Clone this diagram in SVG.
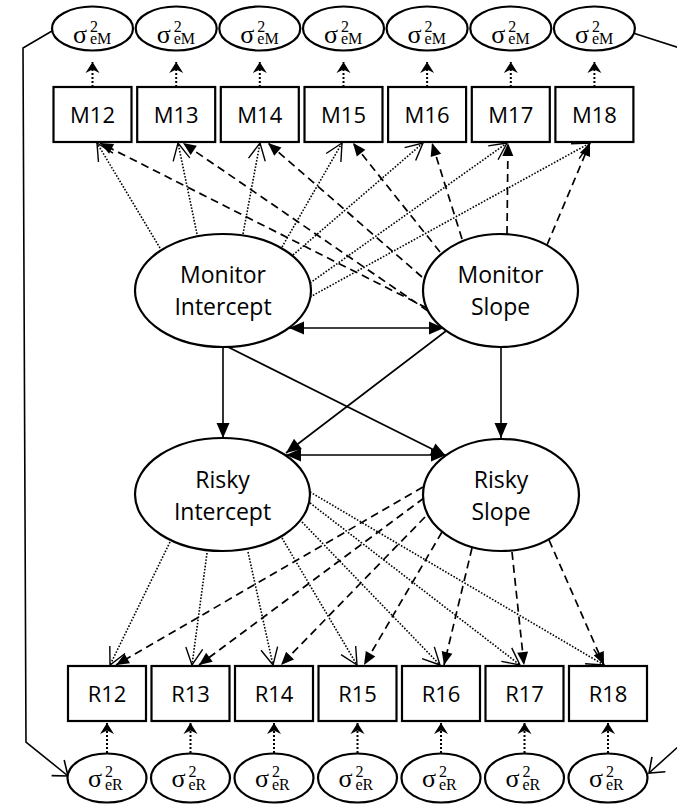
<svg xmlns="http://www.w3.org/2000/svg" width="677" height="804" viewBox="0 0 677 804">
<defs>
<style>
.shape{fill:#fff;stroke:#000;stroke-width:2.2}
.lbl{font-family:"Open Sans","Liberation Sans",sans-serif;font-size:23px;text-anchor:middle;fill:#000}
.blbl{font-family:"Open Sans","Liberation Sans",sans-serif;font-size:22px;text-anchor:middle;fill:#000}
.sig{font-family:"Liberation Serif","DejaVu Serif",serif;font-size:26px;fill:#000}
.sc{font-family:"Liberation Serif","DejaVu Serif",serif;font-size:16px}
.ln{fill:none;stroke:#000;stroke-width:1.6}
.dash{stroke-dasharray:8 5;stroke-width:1.7}
.dot{stroke-dasharray:1.6 1.6;stroke-width:1.6}
.edot{stroke-dasharray:2 2;stroke-width:2}
</style>
<marker id="af" markerUnits="userSpaceOnUse" markerWidth="16" markerHeight="14" viewBox="0 0 16 14" refX="15" refY="7" orient="auto-start-reverse" overflow="visible"><path d="M0,0.5 L15,7 L0,13.5 z" fill="#000" stroke="none"/></marker>
<marker id="afs" markerUnits="userSpaceOnUse" markerWidth="14" markerHeight="12" viewBox="0 0 14 12" refX="13" refY="6" orient="auto" overflow="visible"><path d="M0,0.5 L13,6 L0,11.5 z" fill="#000" stroke="none"/></marker>
<marker id="ao" markerUnits="userSpaceOnUse" markerWidth="20" markerHeight="20" viewBox="0 0 20 20" refX="18" refY="9" orient="auto" overflow="visible"><path d="M1,0.5 L18,9 L1,17.5" fill="none" stroke="#000" stroke-width="1.4" stroke-dasharray="none"/></marker>
<marker id="ao2" markerUnits="userSpaceOnUse" markerWidth="16" markerHeight="22" viewBox="0 0 16 22" refX="14" refY="11" orient="auto" overflow="visible"><path d="M1,1 L14,11 L1,21" fill="none" stroke="#000" stroke-width="1.6" stroke-dasharray="none"/></marker>
<marker id="as" markerUnits="userSpaceOnUse" markerWidth="12" markerHeight="14" viewBox="0 0 12 14" refX="11" refY="7" orient="auto" overflow="visible"><path d="M11,7 L0,0 L3.5,7 L0,14 z" fill="#000" stroke="none"/></marker>
</defs>
<rect x="0" y="0" width="677" height="804" fill="#fff"/>

<g id="connectors">
  <path class="ln" d="M52,31 L23,48 L26,742 L68,776" marker-end="url(#ao2)"/>
  <path class="ln" d="M633,33 L700,54.5 L700,727 L649,773" marker-end="url(#ao2)"/>

  <g class="ln edot" marker-end="url(#as)">
    <line x1="92.5" y1="87" x2="92.5" y2="62"/>
    <line x1="176.2" y1="87" x2="176.2" y2="62"/>
    <line x1="259.8" y1="87" x2="259.8" y2="62"/>
    <line x1="343.5" y1="87" x2="343.5" y2="62"/>
    <line x1="427.1" y1="87" x2="427.1" y2="62"/>
    <line x1="510.8" y1="87" x2="510.8" y2="62"/>
    <line x1="594.4" y1="87" x2="594.4" y2="62"/>
  </g>
  <g class="ln edot" marker-end="url(#as)">
    <line x1="107" y1="753" x2="107" y2="723"/>
    <line x1="190.5" y1="753" x2="190.5" y2="723"/>
    <line x1="274" y1="753" x2="274" y2="723"/>
    <line x1="357.5" y1="753" x2="357.5" y2="723"/>
    <line x1="441" y1="753" x2="441" y2="723"/>
    <line x1="524.5" y1="753" x2="524.5" y2="723"/>
    <line x1="608" y1="753" x2="608" y2="723"/>
  </g>

  <g class="ln dot" marker-end="url(#ao)">
    <line x1="160" y1="248" x2="97" y2="143"/>
    <line x1="197" y1="234" x2="178" y2="143"/>
    <line x1="243" y1="234" x2="260" y2="143"/>
    <line x1="282" y1="247" x2="342" y2="143"/>
    <line x1="293" y1="255" x2="423" y2="143"/>
    <line x1="310" y1="283" x2="507" y2="143"/>
    <line x1="310" y1="297" x2="590" y2="143"/>
  </g>
  <g class="ln dash" marker-end="url(#afs)">
    <line x1="427" y1="308" x2="100" y2="143"/>
    <line x1="428" y1="311" x2="183" y2="143"/>
    <line x1="422" y1="277" x2="268" y2="143"/>
    <line x1="440" y1="252" x2="353" y2="143"/>
    <line x1="462" y1="239" x2="432" y2="143"/>
    <line x1="507" y1="234" x2="508" y2="143"/>
    <line x1="547" y1="245" x2="590" y2="143"/>
  </g>

  <g class="ln" marker-end="url(#af)">
    <line x1="223" y1="347" x2="223" y2="438"/>
    <line x1="501" y1="347" x2="501" y2="438"/>
    <line x1="226" y1="346" x2="446" y2="456"/>
    <line x1="446" y1="331" x2="286" y2="453"/>
  </g>
  <line class="ln" x1="289" y1="328" x2="444" y2="328" marker-start="url(#af)" marker-end="url(#af)"/>
  <line class="ln" x1="286" y1="455" x2="446" y2="455" marker-start="url(#af)" marker-end="url(#af)"/>

  <g class="ln dot" marker-end="url(#ao)">
    <line x1="170" y1="542" x2="110" y2="665"/>
    <line x1="207" y1="553" x2="192" y2="665"/>
    <line x1="248" y1="552" x2="273" y2="665"/>
    <line x1="282" y1="538" x2="357" y2="665"/>
    <line x1="302" y1="522" x2="440" y2="665"/>
    <line x1="310" y1="503" x2="520" y2="665"/>
    <line x1="310" y1="492" x2="604" y2="665"/>
  </g>
  <g class="ln dash" marker-end="url(#afs)">
    <line x1="423" y1="487" x2="116" y2="665"/>
    <line x1="424" y1="498" x2="199" y2="665"/>
    <line x1="425" y1="517" x2="281" y2="665"/>
    <line x1="442" y1="532" x2="364" y2="665"/>
    <line x1="472" y1="548" x2="444" y2="665"/>
    <line x1="512" y1="552" x2="524" y2="665"/>
    <line x1="549" y1="540" x2="604" y2="665"/>
  </g>
</g>

<g id="eM12"><ellipse class="shape" cx="92.5" cy="28.5" rx="40.5" ry="22"/><text class="sig" x="73" y="43">σ<tspan class="sc" x="90" y="32">2</tspan><tspan class="sc" x="90" y="44">eM</tspan></text></g>
<g id="eM13"><ellipse class="shape" cx="176.2" cy="28.5" rx="40.5" ry="22"/><text class="sig" x="156.7" y="43">σ<tspan class="sc" x="173.7" y="32">2</tspan><tspan class="sc" x="173.7" y="44">eM</tspan></text></g>
<g id="eM14"><ellipse class="shape" cx="259.8" cy="28.5" rx="40.5" ry="22"/><text class="sig" x="240.3" y="43">σ<tspan class="sc" x="257.3" y="32">2</tspan><tspan class="sc" x="257.3" y="44">eM</tspan></text></g>
<g id="eM15"><ellipse class="shape" cx="343.5" cy="28.5" rx="40.5" ry="22"/><text class="sig" x="324" y="43">σ<tspan class="sc" x="341" y="32">2</tspan><tspan class="sc" x="341" y="44">eM</tspan></text></g>
<g id="eM16"><ellipse class="shape" cx="427.1" cy="28.5" rx="40.5" ry="22"/><text class="sig" x="407.6" y="43">σ<tspan class="sc" x="424.6" y="32">2</tspan><tspan class="sc" x="424.6" y="44">eM</tspan></text></g>
<g id="eM17"><ellipse class="shape" cx="510.8" cy="28.5" rx="40.5" ry="22"/><text class="sig" x="491.3" y="43">σ<tspan class="sc" x="508.3" y="32">2</tspan><tspan class="sc" x="508.3" y="44">eM</tspan></text></g>
<g id="eM18"><ellipse class="shape" cx="594.4" cy="28.5" rx="40.5" ry="22"/><text class="sig" x="574.9" y="43">σ<tspan class="sc" x="591.9" y="32">2</tspan><tspan class="sc" x="591.9" y="44">eM</tspan></text></g>

<g id="M12"><rect class="shape" x="53.5" y="87" width="78" height="55"/><text class="blbl" x="92.5" y="123">M12</text></g>
<g id="M13"><rect class="shape" x="137.2" y="87" width="78" height="55"/><text class="blbl" x="176.2" y="123">M13</text></g>
<g id="M14"><rect class="shape" x="220.8" y="87" width="78" height="55"/><text class="blbl" x="259.8" y="123">M14</text></g>
<g id="M15"><rect class="shape" x="304.5" y="87" width="78" height="55"/><text class="blbl" x="343.5" y="123">M15</text></g>
<g id="M16"><rect class="shape" x="388.1" y="87" width="78" height="55"/><text class="blbl" x="427.1" y="123">M16</text></g>
<g id="M17"><rect class="shape" x="471.8" y="87" width="78" height="55"/><text class="blbl" x="510.8" y="123">M17</text></g>
<g id="M18"><rect class="shape" x="555.4" y="87" width="78" height="55"/><text class="blbl" x="594.4" y="123">M18</text></g>

<g id="MonitorIntercept"><ellipse class="shape" cx="223" cy="290.5" rx="88" ry="56.5"/><text class="lbl" x="223" y="283">Monitor</text><text class="lbl" x="223" y="315">Intercept</text></g>
<g id="MonitorSlope"><ellipse class="shape" cx="500.5" cy="290.5" rx="77.5" ry="56.5"/><text class="lbl" x="500.5" y="283">Monitor</text><text class="lbl" x="500.5" y="315">Slope</text></g>
<g id="RiskyIntercept"><ellipse class="shape" cx="222.5" cy="494.5" rx="87.5" ry="56.5"/><text class="lbl" x="222.5" y="488">Risky</text><text class="lbl" x="222.5" y="520">Intercept</text></g>
<g id="RiskySlope"><ellipse class="shape" cx="501" cy="495" rx="78" ry="56"/><text class="lbl" x="501" y="488">Risky</text><text class="lbl" x="501" y="520">Slope</text></g>

<g id="R12"><rect class="shape" x="68" y="666" width="78" height="55"/><text class="blbl" x="107" y="702">R12</text></g>
<g id="R13"><rect class="shape" x="151.5" y="666" width="78" height="55"/><text class="blbl" x="190.5" y="702">R13</text></g>
<g id="R14"><rect class="shape" x="235" y="666" width="78" height="55"/><text class="blbl" x="274" y="702">R14</text></g>
<g id="R15"><rect class="shape" x="318.5" y="666" width="78" height="55"/><text class="blbl" x="357.5" y="702">R15</text></g>
<g id="R16"><rect class="shape" x="402" y="666" width="78" height="55"/><text class="blbl" x="441" y="702">R16</text></g>
<g id="R17"><rect class="shape" x="485.5" y="666" width="78" height="55"/><text class="blbl" x="524.5" y="702">R17</text></g>
<g id="R18"><rect class="shape" x="569" y="666" width="78" height="55"/><text class="blbl" x="608" y="702">R18</text></g>

<g id="eR12"><ellipse class="shape" cx="107" cy="778" rx="39.5" ry="24.5"/><text class="sig" x="88" y="787">σ<tspan class="sc" x="105" y="777">2</tspan><tspan class="sc" x="105" y="790">eR</tspan></text></g>
<g id="eR13"><ellipse class="shape" cx="190.5" cy="778" rx="39.5" ry="24.5"/><text class="sig" x="171.5" y="787">σ<tspan class="sc" x="188.5" y="777">2</tspan><tspan class="sc" x="188.5" y="790">eR</tspan></text></g>
<g id="eR14"><ellipse class="shape" cx="274" cy="778" rx="39.5" ry="24.5"/><text class="sig" x="255" y="787">σ<tspan class="sc" x="272" y="777">2</tspan><tspan class="sc" x="272" y="790">eR</tspan></text></g>
<g id="eR15"><ellipse class="shape" cx="357.5" cy="778" rx="39.5" ry="24.5"/><text class="sig" x="338.5" y="787">σ<tspan class="sc" x="355.5" y="777">2</tspan><tspan class="sc" x="355.5" y="790">eR</tspan></text></g>
<g id="eR16"><ellipse class="shape" cx="441" cy="778" rx="39.5" ry="24.5"/><text class="sig" x="422" y="787">σ<tspan class="sc" x="439" y="777">2</tspan><tspan class="sc" x="439" y="790">eR</tspan></text></g>
<g id="eR17"><ellipse class="shape" cx="524.5" cy="778" rx="39.5" ry="24.5"/><text class="sig" x="505.5" y="787">σ<tspan class="sc" x="522.5" y="777">2</tspan><tspan class="sc" x="522.5" y="790">eR</tspan></text></g>
<g id="eR18"><ellipse class="shape" cx="608" cy="778" rx="39.5" ry="24.5"/><text class="sig" x="589" y="787">σ<tspan class="sc" x="606" y="777">2</tspan><tspan class="sc" x="606" y="790">eR</tspan></text></g>
</svg>
